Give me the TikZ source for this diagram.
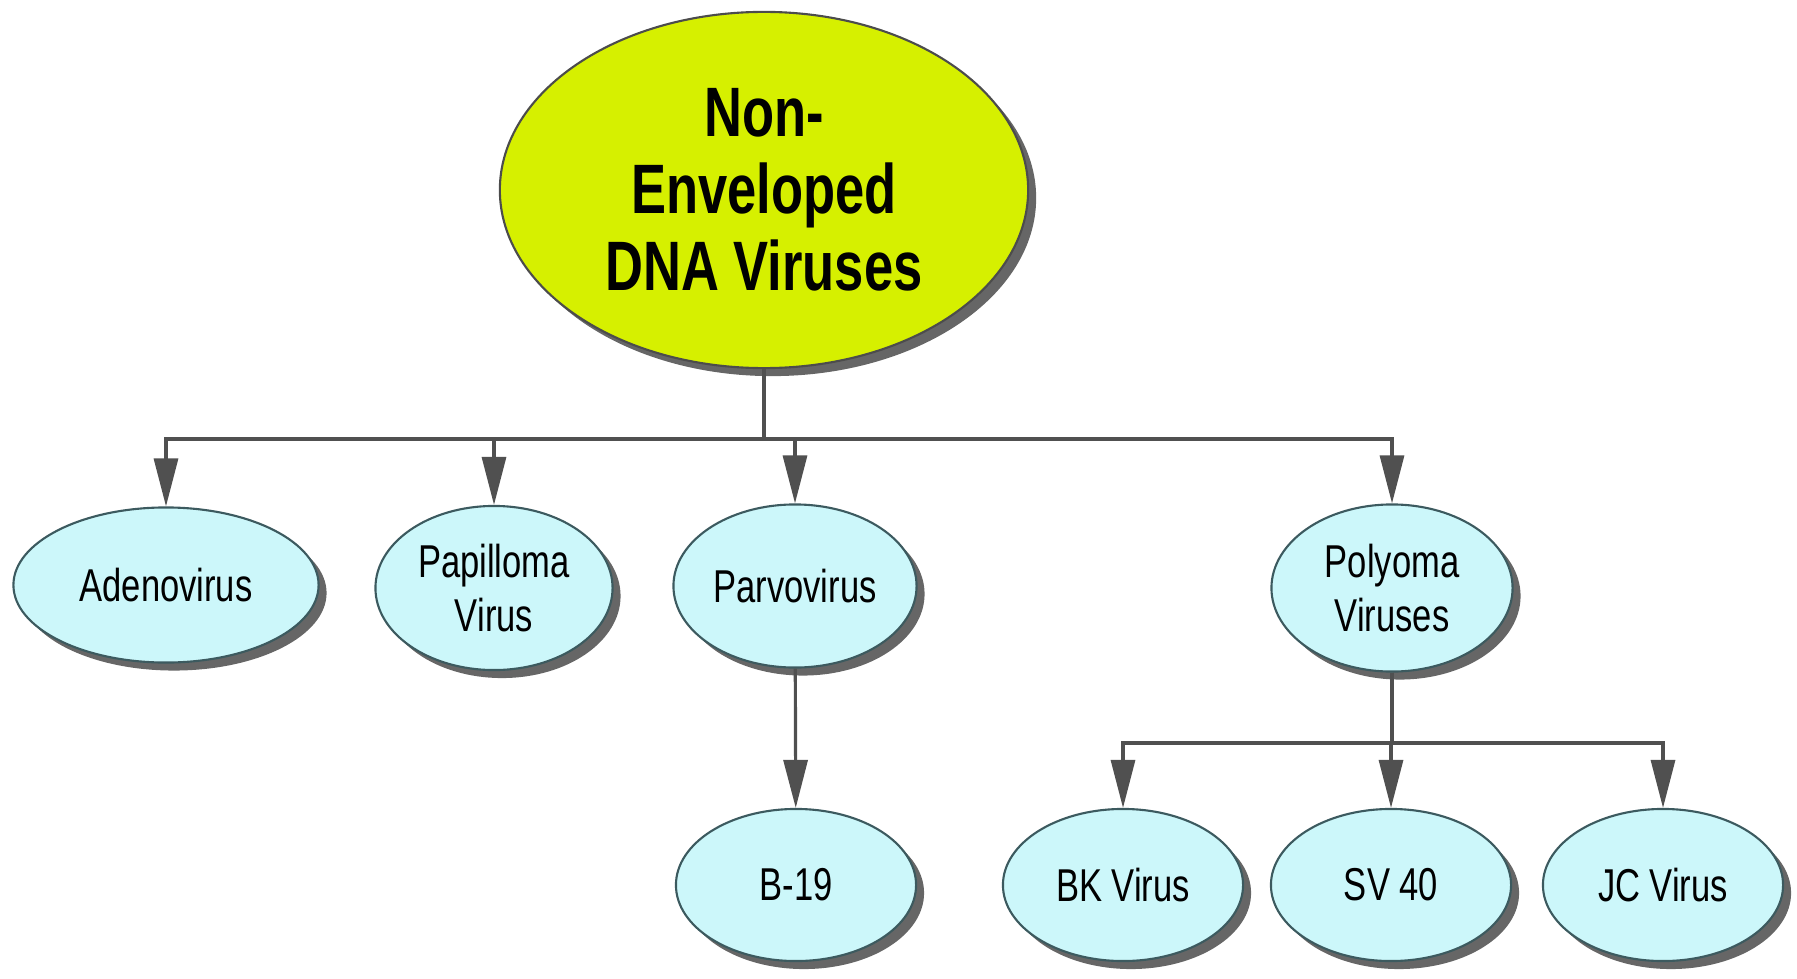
\documentclass[tikz,border=0pt]{standalone}
\usepackage{fontspec}
\setmainfont{Liberation Sans}[FakeStretch=0.75]
\usetikzlibrary{positioning,calc,arrows.meta,shadows,shapes.geometric}
\definecolor{rootfill}{RGB}{214,240,0}
\definecolor{virfill}{RGB}{204,247,250}
\definecolor{edge}{RGB}{80,80,80}
\definecolor{virline}{RGB}{60,90,95}
\tikzstyle{root} = [draw=black!70, ellipse, fill=rootfill, line width=0.6pt, minimum width=5.28cm, minimum height=3.56cm, align=center, font=\fontsize{19.9}{21.9}\selectfont\bfseries, drop shadow={shadow xshift=0.08cm, shadow yshift=-0.08cm, fill=black!60, opacity=1}]
\tikzstyle{virus} = [draw=virline, ellipse, fill=virfill, line width=0.6pt, inner sep=0pt, minimum width=2.4cm, minimum height=1.52cm, align=center, font=\fontsize{13.1}{15.6}\selectfont, drop shadow={shadow xshift=0.08cm, shadow yshift=-0.08cm, fill=black!60, opacity=1}]
\tikzstyle{to} = [-{Triangle[length=0.48cm, width=0.24cm]}, draw=edge, line width=0.9pt]

\begin{document}
\begin{tikzpicture}[x=0.01cm, y=-0.01cm]
		\useasboundingbox (0,0) rectangle (1797,979);
		\node (ned) [root] at (764,190) {Non-\\Enveloped\\DNA Viruses};
		% first level
		\node (adeno) [virus, minimum width=3.05cm, minimum height=1.55cm] at (166,585) {Adenovirus};
		\node (papil) [virus, minimum width=2.37cm, minimum height=1.64cm] at (494,588) {Papilloma\\Virus};
		\node (parvo) [virus, minimum width=2.43cm, minimum height=1.63cm] at (795,586) {Parvovirus};
		\node (polyo) [virus, minimum width=2.41cm, minimum height=1.67cm] at (1392,588) {Polyoma\\Viruses};
		% second level
		\node (b19) [virus] at (796,885) {B-19};
		\node (bk) [virus] at (1123,885) {BK Virus};
		\node (sv40) [virus] at (1391,885) {SV 40};
		\node (jc) [virus] at (1663,885) {JC Virus};
		\coordinate (bus1) at (764,439);
		\coordinate (bus2) at (1392,743);
		\foreach \c in {adeno,papil,parvo,polyo}
			\draw[to] (ned.south) -- (ned.south |- bus1) -| (\c.north);
		\draw[to] (parvo) -- (b19);
		\foreach \c in {bk,sv40,jc}
			\draw[to] (polyo.south) -- (polyo.south |- bus2) -| (\c.north);
\end{tikzpicture}
\end{document}
